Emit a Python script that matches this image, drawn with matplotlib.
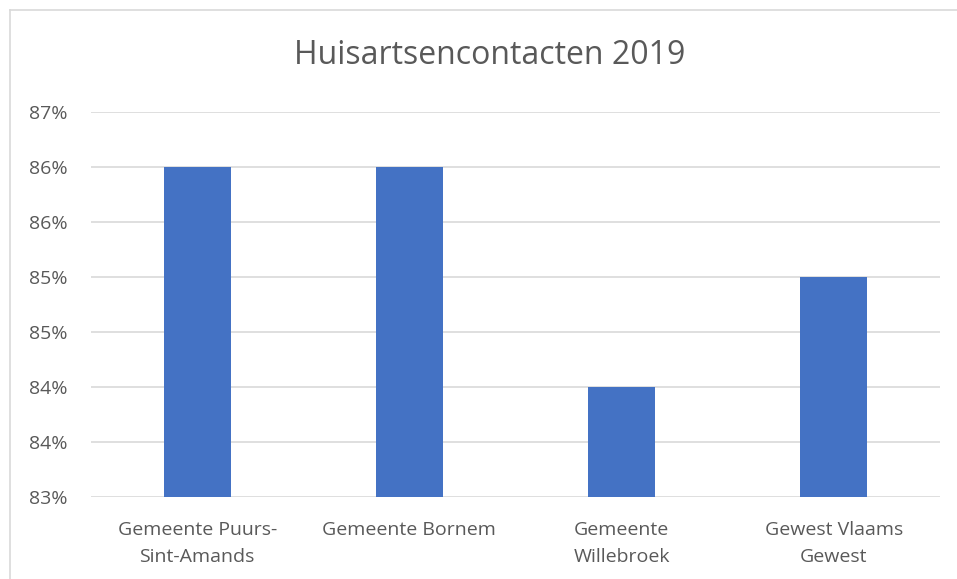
import matplotlib.pyplot as plt
from matplotlib.lines import Line2D

categories = ['Gemeente Puurs-\nSint-Amands', 'Gemeente Bornem', 'Gemeente\nWillebroek', 'Gewest Vlaams\nGewest']
values = [86.0, 86.0, 84.0, 85.0]
y_ticks = [83.0, 83.5, 84.0, 84.5, 85.0, 85.5, 86.0, 86.5]
y_labels = ['83%', '84%', '84%', '85%', '85%', '86%', '86%', '87%']

plt.rcParams['font.family'] = ['Open Sans', 'DejaVu Sans']
txt = '#595959'

fig = plt.figure(figsize=(9.57, 5.79), dpi=100)
ax = fig.add_axes([91 / 957, 82 / 579, 849 / 957, 385 / 579])

x = range(len(categories))
ax.bar(x, [v - 83.0 for v in values], bottom=83.0, width=0.315, color='#4472C4', zorder=3)

ax.set_ylim(83.0, 86.5)
ax.set_xlim(-0.5, 3.5)
ax.set_yticks(y_ticks)
ax.set_yticklabels(y_labels, fontsize=14, color=txt)
ax.set_xticks(list(x))
ax.set_xticklabels(categories, fontsize=14, color=txt, linespacing=1.65)
ax.tick_params(axis='y', length=0, pad=17)
ax.tick_params(axis='x', length=0, pad=17)
ax.grid(axis='y', color='#D9D9D9', linewidth=1.2, zorder=0)
for s in ax.spines.values():
    s.set_visible(False)

fig.text(490 / 957, 1 - 55 / 579, 'Huisartsencontacten 2019', fontsize=23, color=txt,
         ha='center', va='center')

# chart border (left and top edge visible)
fig.lines.append(Line2D([10 / 957, 10 / 957], [0, 1 - 10 / 579], transform=fig.transFigure,
                        color='#D9D9D9', linewidth=1.2))
fig.lines.append(Line2D([10 / 957, 1], [1 - 10 / 579, 1 - 10 / 579], transform=fig.transFigure,
                        color='#D9D9D9', linewidth=1.2))

fig.savefig('out.png', dpi=100)
